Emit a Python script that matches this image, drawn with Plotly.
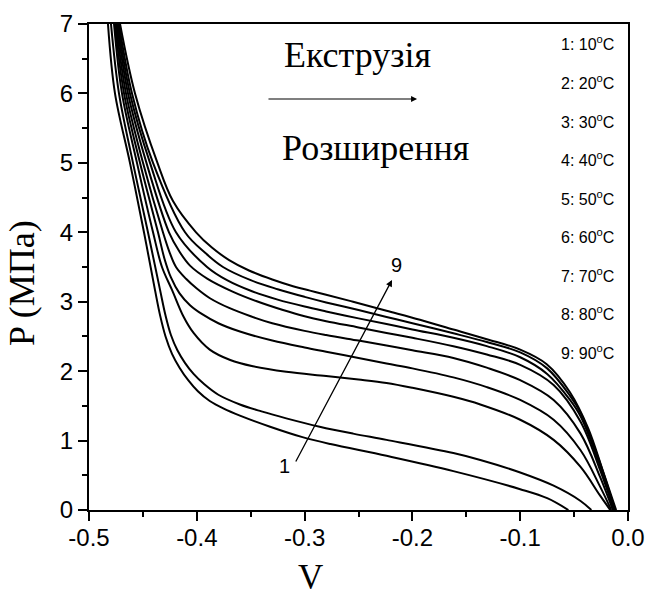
import plotly.graph_objects as go

# Isotherms P(V): volume change V and pressure P (MPa), curves 1..9 = 10..90 °C
v1 = [-0.4824, -0.4759, -0.4620, -0.4490, -0.4388, -0.4340, -0.4290, -0.4230, -0.4160, -0.4080, -0.3990, -0.3880, -0.3750, -0.3600, -0.3320, -0.3020, -0.2760, -0.2240, -0.1620, -0.1000, -0.0750, -0.0553]
p1 = [7.00, 6.00, 5.00, 4.00, 3.17, 2.80, 2.50, 2.25, 2.05, 1.87, 1.71, 1.57, 1.46, 1.36, 1.20, 1.05, 0.95, 0.78, 0.56, 0.30, 0.17, 0.00]

v2 = [-0.4796, -0.4722, -0.4592, -0.4453, -0.4341, -0.4290, -0.4240, -0.4180, -0.4110, -0.4030, -0.3930, -0.3800, -0.3600, -0.3400, -0.3170, -0.2860, -0.2550, -0.2240, -0.1620, -0.1370, -0.1000, -0.0690, -0.0440, -0.0340]
p2 = [7.00, 6.00, 5.00, 4.00, 3.17, 2.80, 2.52, 2.30, 2.12, 1.96, 1.81, 1.66, 1.52, 1.42, 1.32, 1.20, 1.10, 1.01, 0.82, 0.72, 0.54, 0.35, 0.13, 0.00]

v3 = [-0.4768, -0.4694, -0.4555, -0.4406, -0.4323, -0.4230, -0.4125, -0.4030, -0.3880, -0.3690, -0.3480, -0.3170, -0.2800, -0.2500, -0.2240, -0.2000, -0.1620, -0.1370, -0.1000, -0.0690, -0.0440, -0.0260, -0.0165]
p3 = [7.00, 6.00, 5.00, 4.00, 3.50, 3.17, 2.79, 2.55, 2.31, 2.16, 2.07, 1.99, 1.93, 1.88, 1.83, 1.76, 1.63, 1.52, 1.30, 1.01, 0.62, 0.21, 0.00]

v4 = [-0.4759, -0.4675, -0.4527, -0.4360, -0.4300, -0.4240, -0.4160, -0.4063, -0.3950, -0.3800, -0.3600, -0.3300, -0.3000, -0.2800, -0.2500, -0.2240, -0.2000, -0.1620, -0.1310, -0.1000, -0.0690, -0.0440, -0.0260, -0.0155]
p4 = [7.00, 6.00, 5.00, 4.00, 3.62, 3.35, 3.12, 2.95, 2.82, 2.69, 2.57, 2.44, 2.34, 2.28, 2.19, 2.11, 2.04, 1.91, 1.77, 1.585, 1.30, 0.86, 0.34, 0.00]

v5 = [-0.4750, -0.4657, -0.4499, -0.4314, -0.4250, -0.4193, -0.4100, -0.4000, -0.3878, -0.3700, -0.3500, -0.3300, -0.3000, -0.2800, -0.2500, -0.2240, -0.2000, -0.1620, -0.1310, -0.1000, -0.0690, -0.0440, -0.0260, -0.0140]
p5 = [7.00, 6.00, 5.00, 4.00, 3.70, 3.50, 3.33, 3.19, 3.05, 2.91, 2.79, 2.69, 2.58, 2.52, 2.44, 2.37, 2.30, 2.19, 2.05, 1.87, 1.585, 1.10, 0.48, 0.00]

v6 = [-0.4740, -0.4638, -0.4467, -0.4258, -0.4160, -0.4063, -0.3900, -0.3673, -0.3450, -0.3200, -0.3000, -0.2800, -0.2500, -0.2240, -0.2000, -0.1620, -0.1310, -0.1000, -0.0690, -0.0440, -0.0260, -0.0130]
p6 = [7.00, 6.00, 5.00, 4.00, 3.72, 3.52, 3.33, 3.15, 3.01, 2.88, 2.79, 2.72, 2.63, 2.55, 2.48, 2.36, 2.24, 2.09, 1.80, 1.27, 0.58, 0.00]

v7 = [-0.4731, -0.4620, -0.4434, -0.4193, -0.3905, -0.3720, -0.3488, -0.3250, -0.3000, -0.2800, -0.2500, -0.2240, -0.2000, -0.1620, -0.1310, -0.1000, -0.0750, -0.0540, -0.0440, -0.0260, -0.0125]
p7 = [7.00, 6.00, 5.00, 4.00, 3.50, 3.31, 3.15, 3.03, 2.93, 2.86, 2.76, 2.68, 2.60, 2.48, 2.36, 2.20, 1.96, 1.59, 1.35, 0.64, 0.00]

v8 = [-0.4722, -0.4601, -0.4406, -0.4109, -0.3920, -0.3757, -0.3500, -0.3250, -0.3000, -0.2800, -0.2500, -0.2240, -0.2000, -0.1620, -0.1310, -0.1000, -0.0750, -0.0540, -0.0440, -0.0260, -0.0120]
p8 = [7.00, 6.00, 5.00, 4.00, 3.70, 3.50, 3.31, 3.18, 3.07, 2.99, 2.88, 2.78, 2.69, 2.545, 2.42, 2.27, 2.04, 1.65, 1.40, 0.68, 0.00]

v9 = [-0.4712, -0.4573, -0.4365, -0.4221, -0.4007, -0.3860, -0.3700, -0.3516, -0.3300, -0.3100, -0.2950, -0.2800, -0.2550, -0.2240, -0.1930, -0.1620, -0.1310, -0.1000, -0.0754, -0.0540, -0.0370, -0.0230, -0.0110]
p9 = [7.00, 6.00, 5.00, 4.45, 4.00, 3.78, 3.60, 3.45, 3.32, 3.22, 3.16, 3.10, 3.00, 2.87, 2.74, 2.60, 2.46, 2.31, 2.10, 1.70, 1.18, 0.55, 0.00]

curves = [(v1, p1), (v2, p2), (v3, p3), (v4, p4), (v5, p5), (v6, p6), (v7, p7), (v8, p8), (v9, p9)]

curve_labels = ["1: 10<sup>o</sup>C", "2: 20<sup>o</sup>C", "3: 30<sup>o</sup>C", "4: 40<sup>o</sup>C",
                "5: 50<sup>o</sup>C", "6: 60<sup>o</sup>C", "7: 70<sup>o</sup>C", "8: 80<sup>o</sup>C",
                "9: 90<sup>o</sup>C"]

x_ticks = [-0.5, -0.4, -0.3, -0.2, -0.1, 0.0]
x_tick_text = ["-0.5", "-0.4", "-0.3", "-0.2", "-0.1", "0.0"]
y_ticks = [0, 1, 2, 3, 4, 5, 6, 7]

SANS = "Liberation Sans, Arial, sans-serif"
SERIF = "Liberation Serif, Times New Roman, serif"

fig = go.Figure()
for v, p in curves:
    fig.add_trace(go.Scatter(x=v, y=p, mode="lines",
                             line=dict(color="black", width=2, shape="spline", smoothing=1.0),
                             showlegend=False, hoverinfo="skip"))

# temperature key on the right
for i, lab in enumerate(curve_labels):
    fig.add_annotation(x=-0.0640, y=6.72 - i * 0.555, xref="x", yref="y", text=lab,
                       showarrow=False, xanchor="left", yanchor="middle",
                       font=dict(family=SANS, size=16, color="black"))

# direction arrow with captions
fig.add_annotation(x=-0.1957, y=5.92, ax=-0.3349, ay=5.92, xref="x", yref="y", axref="x", ayref="y",
                   text="", showarrow=True, arrowhead=2, arrowsize=1, arrowwidth=1.2, arrowcolor="black")
fig.add_annotation(x=-0.251, y=6.55, xref="x", yref="y", text="Екструзія", showarrow=False,
                   font=dict(family=SERIF, size=36, color="black"))
fig.add_annotation(x=-0.2338, y=5.22, xref="x", yref="y", text="Розширення", showarrow=False,
                   font=dict(family=SERIF, size=36, color="black"))

# 1 -> 9 arrow across the isotherms
fig.add_annotation(x=-0.2189, y=3.314, ax=-0.3089, ay=0.677, xref="x", yref="y", axref="x", ayref="y",
                   text="", showarrow=True, arrowhead=2, arrowsize=1, arrowwidth=1.3, arrowcolor="black")
fig.add_annotation(x=-0.3115, y=0.64, xref="x", yref="y", text="1", showarrow=False,
                   xanchor="right", font=dict(family=SANS, size=20, color="black"))
fig.add_annotation(x=-0.2143, y=3.53, xref="x", yref="y", text="9", showarrow=False,
                   font=dict(family=SANS, size=20, color="black"))

# axis titles
fig.add_annotation(x=-0.2945, y=0, xref="x", yref="paper", text="V", showarrow=False,
                   yanchor="top", yshift=-46, font=dict(family=SERIF, size=35, color="black"))
fig.add_annotation(x=0, y=3.27, xref="paper", yref="y", text="P (МПа)", showarrow=False,
                   textangle=-90, xanchor="center", xshift=-67,
                   font=dict(family=SERIF, size=36, color="black"))

axis_common = dict(showgrid=False, zeroline=False, showline=True, linecolor="black", linewidth=2,
                   mirror=True, ticks="outside", ticklen=9, tickwidth=2, tickcolor="black",
                   automargin=False, ticklabeloverflow="allow",
                   tickfont=dict(family=SANS, size=24, color="black"))

fig.update_xaxes(range=[-0.5, 0.0], tickvals=x_ticks, ticktext=x_tick_text, ticklabelstandoff=-4,
                 minor=dict(ticks="outside", ticklen=5, tickwidth=2, tickcolor="black", dtick=0.05, tick0=0),
                 **axis_common)
fig.update_yaxes(range=[0, 7], tickvals=y_ticks,
                 minor=dict(ticks="outside", ticklen=5, tickwidth=2, tickcolor="black", dtick=0.5, tick0=0),
                 **axis_common)

fig.update_layout(width=646, height=597, margin=dict(l=89, r=18, t=24, b=87),
                  plot_bgcolor="white", paper_bgcolor="white", showlegend=False)

fig.write_html("out.html")
